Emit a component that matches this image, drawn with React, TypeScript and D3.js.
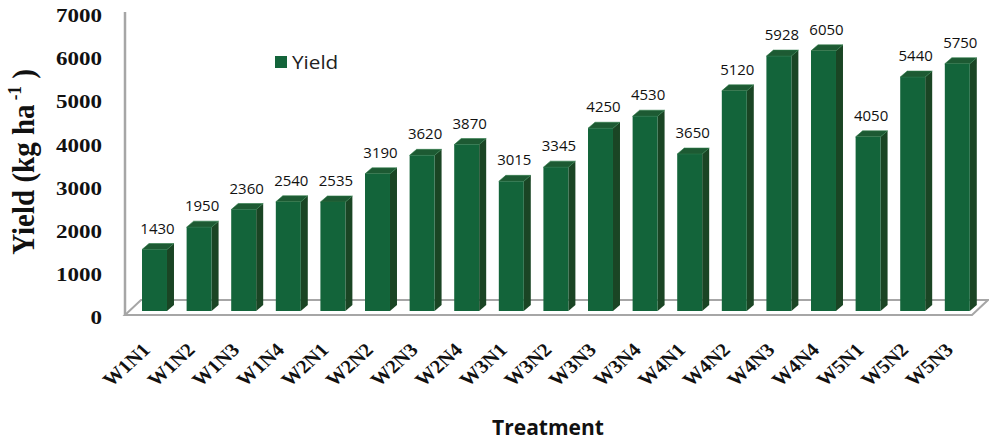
import React from "react";
import * as d3 from "d3";

const categories = [
  "W1N1", "W1N2", "W1N3", "W1N4", "W2N1", "W2N2", "W2N3", "W2N4",
  "W3N1", "W3N2", "W3N3", "W3N4", "W4N1", "W4N2", "W4N3", "W4N4",
  "W5N1", "W5N2", "W5N3",
];
const yieldValues = [
  1430, 1950, 2360, 2540, 2535, 3190, 3620, 3870,
  3015, 3345, 4250, 4530, 3650, 5120, 5928, 6050,
  4050, 5440, 5750,
];
const yTicks = [0, 1000, 2000, 3000, 4000, 5000, 6000, 7000];
const seriesName = "Yield";

const W = 989;
const H = 441;

// plot frame (3-D box corners)
const floorFrontY = 315;
const floorDepthX = 16;
const floorDepthY = -15;
const wallX = 125;
const wallTop = 12;
const barBase = 311;
const barDX = 7;
const barDY = -6;

const FRONT = "#13643a";
const SIDE = "#1a4524";
const TOP = "#1d5a33";
const AXIS = "#a6a6a6";

export default function App() {
  const x = d3
    .scaleBand<string>()
    .domain(categories)
    .range([132.2, 979.6])
    .paddingInner(0.44)
    .paddingOuter(0.22);
  const y = d3.scaleLinear().domain([0, 7000]).range([barBase, 10]);
  const yLabel = d3.scaleLinear().domain([0, 7000]).range([318, 16]);
  const bw = x.bandwidth();
  const floorRight = 972;

  const serif = "'Liberation Serif', 'Times New Roman', serif";
  const sans = "'Open Sans', 'Noto Sans', sans-serif";

  return (
    <svg
      width={W}
      height={H}
      style={{ position: "absolute", left: 0, top: 0, background: "#fff" }}
    >
      {/* floor */}
      <polygon
        points={[
          [wallX, floorFrontY],
          [floorRight, floorFrontY],
          [floorRight + floorDepthX, floorFrontY + floorDepthY],
          [wallX + floorDepthX, floorFrontY + floorDepthY],
        ]
          .map((p) => p.join(","))
          .join(" ")}
        fill="#fff"
        stroke={AXIS}
        strokeWidth={2}
      />
      {/* side wall edge */}
      <line x1={wallX} x2={wallX} y1={wallTop} y2={floorFrontY} stroke={AXIS} strokeWidth={2.5} />

      {/* bars */}
      {categories.map((c, i) => {
        const v = yieldValues[i];
        const x0 = x(c) as number;
        const yt = y(v);
        const side = [
          [x0 + bw, yt],
          [x0 + bw + barDX, yt + barDY],
          [x0 + bw + barDX, barBase + barDY],
          [x0 + bw, barBase],
        ];
        const top = [
          [x0, yt],
          [x0 + barDX, yt + barDY],
          [x0 + bw + barDX, yt + barDY],
          [x0 + bw, yt],
        ];
        return (
          <g key={c}>
            <polygon points={side.map((p) => p.join(",")).join(" ")} fill={SIDE} />
            <polygon points={top.map((p) => p.join(",")).join(" ")} fill={TOP} stroke="#2c7a47" strokeWidth={0.6} />
            <rect x={x0} y={yt} width={bw} height={barBase - yt} fill={FRONT} />
            <text
              x={x0 + bw / 2 + 3}
              y={yt - 16}
              textAnchor="middle"
              fontFamily={sans}
              fontSize={15}
              fill="#111"
            >
              {v}
            </text>
          </g>
        );
      })}

      {/* y tick labels */}
      {yTicks.map((t) => (
        <text
          key={t}
          transform={`translate(102,${yLabel(t)}) scale(1.28,1)`}
          textAnchor="end"
          dominantBaseline="central"
          fontFamily={serif}
          fontWeight="bold"
          fontSize={18}
          fill="#111"
        >
          {t}
        </text>
      ))}

      {/* y axis title */}
      <text
        transform={`translate(34,162) scale(1.1,1) rotate(-90)`}
        textAnchor="middle"
        fontFamily={serif}
        fontWeight="bold"
        fontSize={29}
        fill="#111"
      >
        Yield (kg ha
        <tspan fontSize={17} dy={-12}> -1</tspan>
        <tspan dy={12}> )</tspan>
      </text>

      {/* x tick labels */}
      {categories.map((c) => {
        const cx = (x(c) as number) + bw / 2;
        return (
          <text
            key={c}
            transform={`translate(${cx - 3},351) scale(1.1,1) rotate(-45)`}
            textAnchor="end"
            fontFamily={serif}
            fontWeight="bold"
            fontSize={19}
            fill="#111"
          >
            {c}
          </text>
        );
      })}

      {/* x axis title */}
      <text
        x={548}
        y={435}
        textAnchor="middle"
        fontFamily={sans}
        fontWeight="bold"
        fontSize={21}
        fill="#111"
      >
        Treatment
      </text>

      {/* legend */}
      <rect x={275} y={56} width={12} height={12} fill={FRONT} />
      <text
        transform="translate(292,69) scale(1.15,1)"
        fontFamily={sans}
        fontSize={18}
        fill="#222"
      >
        {seriesName}
      </text>
    </svg>
  );
}
